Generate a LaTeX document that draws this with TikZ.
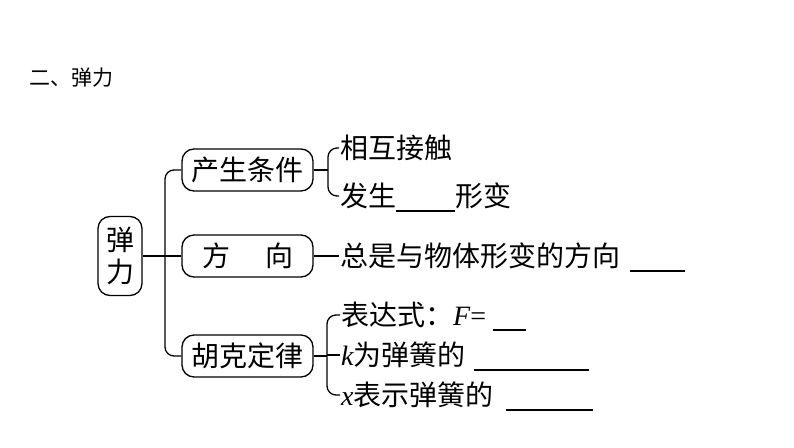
\documentclass[tikz,border=0pt]{standalone}
\usepackage{fontspec}
\setmainfont{Noto Sans CJK SC}
\newfontfamily\latin{Liberation Serif}
\newcommand\blank[1]{\rule[-5pt]{#1pt}{1.3pt}}
\newcommand\ivar[1]{{\latin\itshape #1}}

\begin{document}
\begin{tikzpicture}[x=1pt,y=-1pt,
    box/.style={draw, line width=1.3pt, rounded corners=12pt, minimum width=131pt,
      minimum height=42pt, inner sep=0pt, font=\fontsize{28}{32}\selectfont},
    item/.style={anchor=west, inner sep=0pt, text height=24pt, text depth=3pt,
      font=\fontsize{28}{32}\selectfont},
    link/.style={line width=1.3pt, rounded corners=9pt}]
  \useasboundingbox (0,0) rectangle (794,447);
  \node[anchor=west, inner sep=0pt, font=\fontsize{21}{25}\selectfont] (title) at (29,78) {二、弹力};

  % main boxes
  \node[box, minimum width=44pt, minimum height=79pt, align=center] (root) at (120,256) {弹\\力};
  \node[box] (cond) at (247.5,170) {产生条件};
  \node[box] (dir) at (247.5,256) {方\hspace{1.25em}向};
  \node[box] (hooke) at (247.5,356) {胡克定律};
  \coordinate (trunk) at (165,0);

  \draw[link] (cond.west) -- (cond.west -| trunk) -- (hooke.west -| trunk) -- (hooke.west);
  \draw[line width=1.3pt] (root.east) -- (dir.west);

  % conditions
  \node[item] (c1) at (340,148) {相互接触};
  \node[item] (c2) at (340,196) {发生\blank{59}形变};
  \coordinate (br1) at (328,0);
  \draw[line width=1.3pt] (cond.east) -- (cond.east -| br1);
  \draw[link] ([xshift=-1pt]c1.west) -- (c1.west -| br1) -- (c2.west -| br1) -- ([xshift=-1pt]c2.west);

  % direction
  \node[item] (d1) at (340,256) {总是与物体形变的方向\hspace{10pt}\blank{55}};
  \draw[line width=1.3pt] (dir.east) -- ([xshift=-1pt]d1.west);

  % Hooke's law
  \node[item] (h1) at (341,315) {表达式：\ivar{F}{\latin =}\hspace{7pt}\blank{33}};
  \node[item] (h2) at (341,355) {\ivar{k}为弹簧的\hspace{8pt}\blank{115}};
  \node[item] (h3) at (341,395) {\ivar{x}表示弹簧的\hspace{12pt}\blank{87}};
  \coordinate (br2) at (327,0);
  \draw[line width=1.3pt] (hooke.east) -- (hooke.east -| br2);
  \draw[link] ([xshift=-1pt]h1.west) -- (h1.west -| br2) -- (h3.west -| br2) -- ([xshift=-1pt]h3.west);
  \draw[line width=1.3pt] (h2.west -| br2) -- ([xshift=-1pt]h2.west);
\end{tikzpicture}
\end{document}
